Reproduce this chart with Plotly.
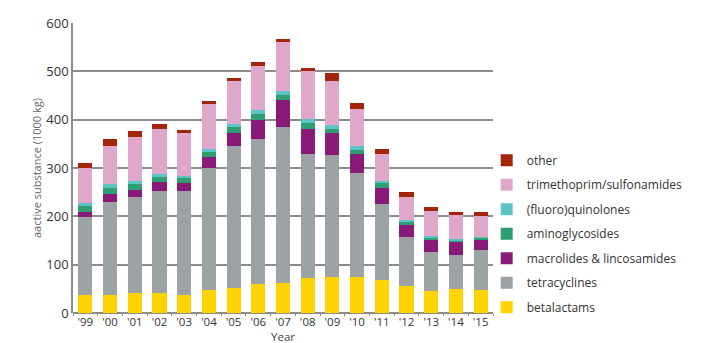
import plotly.graph_objects as go

years = ["'99", "'00", "'01", "'02", "'03", "'04", "'05", "'06", "'07", "'08",
         "'09", "'10", "'11", "'12", "'13", "'14", "'15"]

betalactams = [38, 38, 41, 41, 38, 47, 52, 60, 63, 72, 74, 74, 69, 56, 46, 49, 47]
tetracyclines = [161, 192, 198, 211, 214, 254, 293, 299, 321, 256, 252, 215, 156, 102, 81, 70, 83]
macrolides = [10, 17, 16, 20, 17, 22, 28, 41, 57, 53, 47, 39, 34, 25, 26, 29, 23]
aminoglycosides = [13, 12, 11, 10, 11, 10, 11, 12, 11, 12, 8, 10, 10, 7, 4, 3, 3]
quinolones = [6, 8, 7, 6, 3, 7, 8, 8, 8, 8, 8, 7, 4, 3, 2, 2, 2]
trimethoprim = [73, 78, 91, 93, 89, 92, 89, 92, 100, 99, 92, 77, 55, 48, 52, 49, 42]
other = [10, 14, 12, 11, 6, 6, 5, 8, 6, 7, 15, 12, 11, 9, 9, 6, 8]

series = [
    ("betalactams", betalactams, "#FFD200"),
    ("tetracyclines", tetracyclines, "#9DA2A5"),
    ("macrolides & lincosamides", macrolides, "#8A1A78"),
    ("aminoglycosides", aminoglycosides, "#2F9E72"),
    ("(fluoro)quinolones", quinolones, "#5CC3C7"),
    ("trimethoprim/sulfonamides", trimethoprim, "#DFA7CA"),
    ("other", other, "#A3260C"),
]

fig = go.Figure()
n = len(series)
for i, (name, vals, col) in enumerate(series):
    fig.add_trace(go.Bar(
        x=years, y=vals, name=name,
        marker=dict(color=col, line=dict(width=0)),
        legendgroup=name, legendrank=n - i,
    ))

fig.update_layout(
    barmode="stack",
    bargap=0.43,
    width=705, height=343,
    margin=dict(l=73, r=212, t=23, b=30, autoexpand=False),
    paper_bgcolor="white",
    plot_bgcolor="white",
    font=dict(family="Open Sans", color="#333333", size=12),
    legend=dict(
        x=0.985, xanchor="left", y=0.577, yanchor="top",
        traceorder="grouped", tracegroupgap=5.5,
        font=dict(size=12, color="#333333"),
        bgcolor="rgba(0,0,0,0)",
        itemwidth=30,
    ),
    showlegend=True,
    annotations=[dict(
        text="Year", xref="paper", yref="paper", x=0.5, y=-30 / 290,
        xanchor="center", yanchor="bottom", showarrow=False, yshift=-2,
        borderpad=0,
        font=dict(size=11.5, color="#444444"),
    )],
)

fig.update_yaxes(
    range=[0, 600], dtick=100,
    showgrid=True, gridcolor="#8c8c8c", gridwidth=1.5,
    showline=True, linecolor="#8c8c8c", linewidth=1.5,
    zeroline=True, zerolinecolor="#8c8c8c", zerolinewidth=1.5,
    tickfont=dict(size=13, color="#333333"),
    ticks="", ticklen=0,
    title=dict(text="aactive substance (1000 kg)", font=dict(size=11, color="#666666"), standoff=2),
)
fig.update_xaxes(
    range=[-0.5, 16.5],
    showline=False, tickangle=0,
    ticks="outside", tickson="boundaries", ticklen=2, tickcolor="#8c8c8c",
    tickfont=dict(size=11.5, color="#333333"),
)

fig.write_html("out.html")
